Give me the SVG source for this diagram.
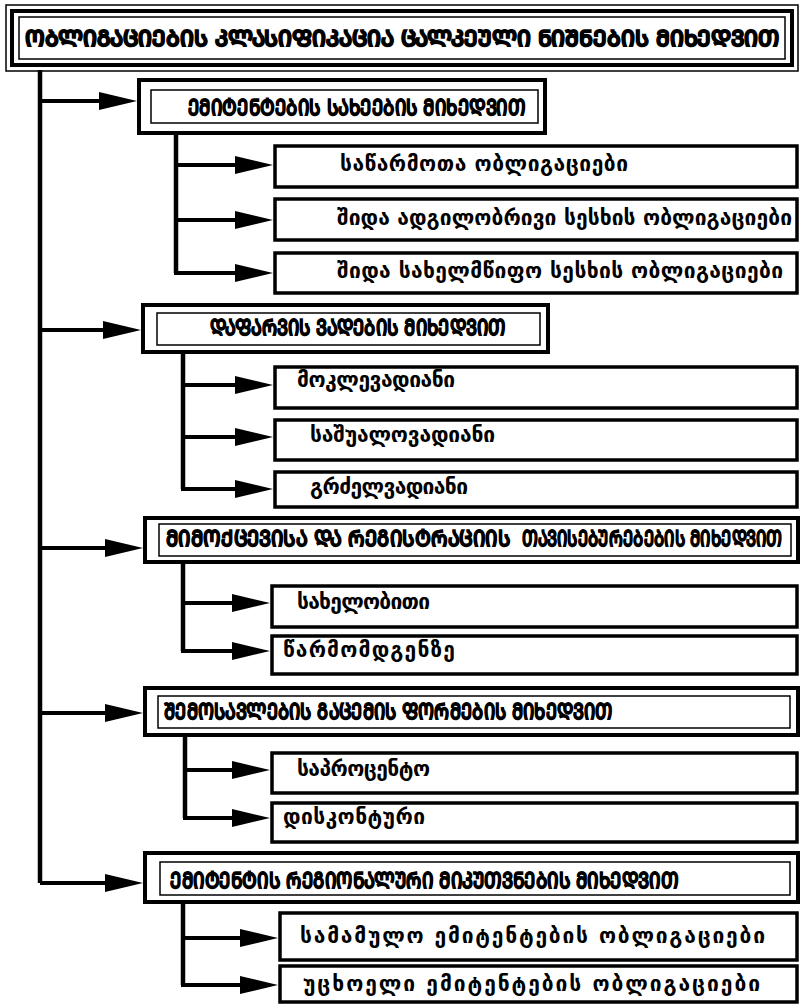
<svg xmlns="http://www.w3.org/2000/svg" width="804" height="1004" viewBox="0 0 804 1004">
<style>
.bg{fill:#fff}
.thin{fill:none;stroke:#000;stroke-width:1.5}
.thick{fill:#fff;stroke:#000;stroke-width:4}
.sub{fill:#fff;stroke:#000;stroke-width:3.5}
.ln{fill:none;stroke:#000;stroke-width:4.5}
.arr{fill:none;stroke:#000;stroke-width:4}
.cap{font-family:"DejaVu Sans Condensed","DejaVu Sans",sans-serif;font-weight:bold;font-size:22px;fill:#000;stroke:#000;stroke-width:1.1}
.ttl{font-family:"DejaVu Sans Condensed","DejaVu Sans",sans-serif;font-weight:bold;font-size:22px;fill:#000;stroke:#000;stroke-width:1.4}
.txt{font-family:"DejaVu Sans",sans-serif;font-weight:bold;font-size:21px;fill:#000}
</style>
<defs>
<marker id="ah" viewBox="0 0 38 18" markerWidth="38" markerHeight="18" refX="23" refY="9" markerUnits="userSpaceOnUse" orient="auto">
<path d="M0,0 L38,9 L0,18 Z" fill="#000"/>
</marker>
</defs>
<rect class="bg" x="0" y="0" width="804" height="1004"/>

<g id="connectors">
<path class="ln" d="M40,70 V883"/>
<path class="arr" d="M40,101 H122" marker-end="url(#ah)"/>
<path class="arr" d="M40,330 H126" marker-end="url(#ah)"/>
<path class="arr" d="M40,548 H128" marker-end="url(#ah)"/>
<path class="arr" d="M40,713 H128" marker-end="url(#ah)"/>
<path class="arr" d="M40,883 H128" marker-end="url(#ah)"/>

<path class="ln" d="M176,133 V273"/>
<path class="arr" d="M176,165 H258" marker-end="url(#ah)"/>
<path class="arr" d="M176,220 H258" marker-end="url(#ah)"/>
<path class="arr" d="M174,273 H258" marker-end="url(#ah)"/>

<path class="ln" d="M183,352 V489"/>
<path class="arr" d="M183,385 H258" marker-end="url(#ah)"/>
<path class="arr" d="M183,437 H258" marker-end="url(#ah)"/>
<path class="arr" d="M181,489 H258" marker-end="url(#ah)"/>

<path class="ln" d="M183,562 V651"/>
<path class="arr" d="M183,603 H255" marker-end="url(#ah)"/>
<path class="arr" d="M181,651 H255" marker-end="url(#ah)"/>

<path class="ln" d="M185,735 V818"/>
<path class="arr" d="M185,770 H255" marker-end="url(#ah)"/>
<path class="arr" d="M183,818 H255" marker-end="url(#ah)"/>

<path class="ln" d="M183,902 V985"/>
<path class="arr" d="M183,938 H263" marker-end="url(#ah)"/>
<path class="arr" d="M181,985 H263" marker-end="url(#ah)"/>
</g>

<g id="title">
<rect class="thin" x="6" y="5" width="792" height="66"/>
<rect class="thick" x="12" y="11" width="780" height="54"/>
<rect class="thin" x="19" y="17" width="766" height="42"/>
<text class="ttl" x="25" y="46" textLength="754" lengthAdjust="spacingAndGlyphs">ᲝᲑᲚᲘᲒᲐᲪᲘᲔᲑᲘᲡ ᲙᲚᲐᲡᲘᲤᲘᲙᲐᲪᲘᲐ ᲪᲐᲚᲙᲔᲣᲚᲘ ᲜᲘᲨᲜᲔᲑᲘᲡ ᲛᲘᲮᲔᲓᲕᲘᲗ</text>
</g>

<g id="h1">
<rect class="thick" x="139" y="80" width="406" height="53"/>
<rect class="thin" x="151" y="90" width="387" height="33"/>
<text class="cap" x="188" y="115" textLength="337" lengthAdjust="spacingAndGlyphs">ᲔᲛᲘᲢᲔᲜᲢᲔᲑᲘᲡ ᲡᲐᲮᲔᲔᲑᲘᲡ ᲛᲘᲮᲔᲓᲕᲘᲗ</text>
</g>
<g id="s11"><rect class="sub" x="275" y="146" width="522" height="41"/><text class="txt" x="340" y="171" textLength="288" lengthAdjust="spacing">საწარმოთა ობლიგაციები</text></g>
<g id="s12"><rect class="sub" x="275" y="199" width="522" height="41"/><text class="txt" x="337" y="225" textLength="455" lengthAdjust="spacing">შიდა ადგილობრივი სესხის ობლიგაციები</text></g>
<g id="s13"><rect class="sub" x="275" y="253" width="522" height="40"/><text class="txt" x="337" y="278" textLength="446" lengthAdjust="spacing">შიდა სახელმწიფო სესხის ობლიგაციები</text></g>

<g id="h2">
<rect class="thick" x="143" y="305" width="405" height="47"/>
<rect class="thin" x="157" y="313" width="383" height="32"/>
<text class="cap" x="210" y="335" textLength="295" lengthAdjust="spacingAndGlyphs">ᲓᲐᲤᲐᲠᲕᲘᲡ ᲕᲐᲓᲔᲑᲘᲡ ᲛᲘᲮᲔᲓᲕᲘᲗ</text>
</g>
<g id="s21"><rect class="sub" x="275" y="367" width="522" height="41"/><text class="txt" x="297" y="387" textLength="158" lengthAdjust="spacing">მოკლევადიანი</text></g>
<g id="s22"><rect class="sub" x="275" y="420" width="522" height="40"/><text class="txt" x="310" y="442" textLength="185" lengthAdjust="spacing">საშუალოვადიანი</text></g>
<g id="s23"><rect class="sub" x="275" y="472" width="522" height="35"/><text class="txt" x="310" y="494" textLength="158" lengthAdjust="spacing">გრძელვადიანი</text></g>

<g id="h3">
<rect class="thick" x="145" y="518" width="653" height="44"/>
<rect class="thin" x="159" y="524" width="632" height="32"/>
<text class="cap" x="166" y="546" font-size="17" stroke-width="1.2" textLength="344" lengthAdjust="spacingAndGlyphs">ᲛᲘᲛᲝᲥᲪᲔᲕᲘᲡᲐ ᲓᲐ ᲠᲔᲒᲘᲡᲢᲠᲐᲪᲘᲘᲡ</text>
<text class="cap" x="522" y="546" font-size="17" stroke-width="1.2" textLength="260" lengthAdjust="spacingAndGlyphs">ᲗᲐᲕᲘᲡᲔᲑᲣᲠᲔᲑᲔᲑᲘᲡ ᲛᲘᲮᲔᲓᲕᲘᲗ</text>
</g>
<g id="s31"><rect class="sub" x="272" y="586" width="525" height="41"/><text class="txt" x="297" y="609" textLength="133" lengthAdjust="spacing">სახელობითი</text></g>
<g id="s32"><rect class="sub" x="272" y="636" width="525" height="38"/><text class="txt" x="283" y="657" textLength="172" lengthAdjust="spacing">წარმომდგენზე</text></g>

<g id="h4">
<rect class="thick" x="145" y="688" width="653" height="47"/>
<rect class="thin" x="158" y="696" width="632" height="32"/>
<text class="cap" x="164" y="719" textLength="448" lengthAdjust="spacingAndGlyphs">ᲨᲔᲛᲝᲡᲐᲕᲚᲔᲑᲘᲡ ᲒᲐᲪᲔᲛᲘᲡ ᲤᲝᲠᲛᲔᲑᲘᲡ ᲛᲘᲮᲔᲓᲕᲘᲗ</text>
</g>
<g id="s41"><rect class="sub" x="272" y="753" width="525" height="40"/><text class="txt" x="297" y="776" textLength="133" lengthAdjust="spacing">საპროცენტო</text></g>
<g id="s42"><rect class="sub" x="272" y="803" width="525" height="39"/><text class="txt" x="283" y="824" textLength="142" lengthAdjust="spacing">დისკონტური</text></g>

<g id="h5">
<rect class="thick" x="145" y="853" width="653" height="49"/>
<rect class="thin" x="160" y="862" width="630" height="33"/>
<text class="cap" x="170" y="888" font-size="20" textLength="508" lengthAdjust="spacingAndGlyphs">ᲔᲛᲘᲢᲔᲜᲢᲘᲡ ᲠᲔᲒᲘᲝᲜᲐᲚᲣᲠᲘ ᲛᲘᲙᲣᲗᲕᲜᲔᲑᲘᲡ ᲛᲘᲮᲔᲓᲕᲘᲗ</text>
</g>
<g id="s51"><rect class="sub" x="280" y="913" width="517" height="47"/><text class="txt" x="300" y="943" textLength="465" lengthAdjust="spacing">სამამულო ემიტენტების ობლიგაციები</text></g>
<g id="s52"><rect class="sub" x="280" y="966" width="517" height="36"/><text class="txt" x="303" y="991" textLength="457" lengthAdjust="spacing">უცხოელი ემიტენტების ობლიგაციები</text></g>
</svg>
